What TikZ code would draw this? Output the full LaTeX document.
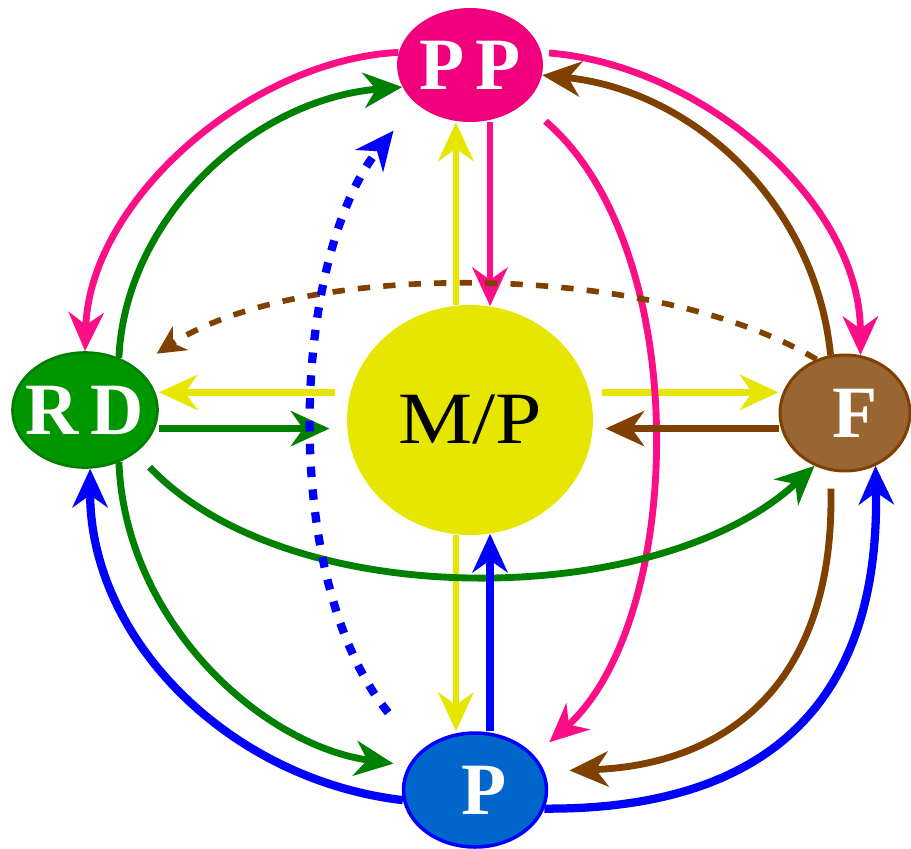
\documentclass[tikz,border=0pt]{standalone}
\usepackage{fontspec}
\setmainfont{Liberation Serif}
\usetikzlibrary{arrows.meta,shapes.geometric}

\definecolor{ppcol}{RGB}{240,0,125}
\definecolor{pplinecol}{RGB}{250,15,135}
\definecolor{rdcol}{RGB}{0,150,0}
\definecolor{rdlinecol}{RGB}{0,128,0}
\definecolor{fcol}{RGB}{153,102,51}
\definecolor{flinecol}{RGB}{128,64,0}
\definecolor{pcol}{RGB}{0,102,204}
\definecolor{plinecol}{RGB}{0,0,255}
\definecolor{mpcol}{RGB}{230,230,0}

\tikzset{
  blob/.style={ellipse, inner sep=0pt, text=white, font=\fontsize{42}{42}\selectfont\bfseries},
  conn/.style={line width=3.9pt, -{Stealth[length=22pt,width=20pt,inset=7pt]}},
  yconn/.style={conn, mpcol},
  ppconn/.style={conn, pplinecol},
  rdconn/.style={conn, rdlinecol},
  fconn/.style={conn, flinecol},
  pconn/.style={conn, plinecol, line width=4.7pt},
  fdash/.style={flinecol, line width=3.2pt, dash pattern=on 7pt off 7.5pt, -{Stealth[length=16pt,width=16pt,inset=5pt]}},
  pdash/.style={plinecol, line width=4.7pt, dash pattern=on 6pt off 7pt, -{Stealth[length=22pt,width=20pt,inset=7pt]}},
}

\begin{document}
\begin{tikzpicture}[x=0.02cm, y=-0.02cm]
        \useasboundingbox (0,0) rectangle (911,848);

        % uzly
        \node[blob, fill=ppcol, minimum width=2.92cm, minimum height=2.28cm] (PP) at (470,65) {\makebox[0pt]{\raisebox{-.06em}{P\hspace{.15em}P}}};
        \node[blob, fill=rdcol, draw=rdlinecol, line width=1.5pt, minimum width=2.9cm, minimum height=2.3cm] (RD) at (85,410) {\makebox[0pt]{\raisebox{-.09em}{R\hspace{.16em}D}}};
        \node[blob, fill=fcol, draw=flinecol, line width=1.7pt, minimum width=2.6cm, minimum height=2.32cm] (F) at (845,413) {\makebox[0pt]{\hspace{.28em}\raisebox{-.05em}{F}}};
        \node[blob, fill=pcol, draw=plinecol, line width=2pt, minimum width=2.86cm, minimum height=2.28cm] (P) at (475,790) {\makebox[0pt]{\hspace{.25em}P}};
        \node[ellipse, fill=mpcol, inner sep=0pt, minimum width=4.92cm, minimum height=4.6cm, font=\fontsize{42}{42}\selectfont] (MP) at (470,420) {\makebox[0pt]{\scalebox{1.13}[1]{M/P}}};

        % ze stredu
        \draw[yconn] (MP.97) -- (MP.97 |- PP.south);
        \draw[yconn] (MP.263) -- (MP.263 |- P.north);
        \draw[yconn, shorten <=.3cm] (MP.167) -- (MP.167 -| RD.east);
        \draw[yconn, shorten <=.25cm] (MP.13) -- (MP.13 -| F.west);

        % PP
        \draw[ppconn] (MP.80 |- PP.south) -- (MP.80);
        \draw[ppconn] (PP.170) .. controls (250,60) and (90,200) .. (RD.north);
        \draw[ppconn, shorten <=.15cm] (PP.10) .. controls (700,65) and (860,200) .. (F.75);
        \draw[ppconn, shorten <=.55cm, shorten >=.4cm] (PP.-35) .. controls (695,250) and (685,620) .. (P.30);

        % RD
        \draw[rdconn] (RD.57) .. controls (125,220) and (250,100) .. (PP.198);
        \draw[rdconn, shorten >=.35cm] (MP.184 -| RD.east) -- (MP.184);
        \draw[rdconn, shorten <=.4cm] (RD.-40) .. controls (290,615) and (660,610) .. (F.-120);
        \draw[rdconn, shorten >=.3cm] (RD.-57) .. controls (125,620) and (260,745) .. (P.160);

        % F
        \draw[fconn] (F.104) .. controls (815,200) and (690,90) .. (PP.-8);
        \draw[fconn, shorten >=.25cm] (MP.-4 -| F.west) -- (MP.-4);
        \draw[fconn, shorten <=.35cm, shorten >=.5cm] (F.-104) .. controls (835,690) and (720,765) .. (P.15);
        \draw[fdash, shorten >=.5cm] (F.118) .. controls (650,260) and (300,260) .. (RD.40);

        % P
        \draw[pconn] (MP.-80 |- P.north) -- (MP.-80);
        \draw[pconn] (P.188) .. controls (230,780) and (90,640) .. (RD.-85);
        \draw[pconn] (P.-15) .. controls (770,810) and (880,700) .. (F.-60);
        \draw[pdash, shorten <=1cm, shorten >=.7cm] (P.145) .. controls (280,580) and (290,260) .. (PP.215);

    \end{tikzpicture}
\end{document}
